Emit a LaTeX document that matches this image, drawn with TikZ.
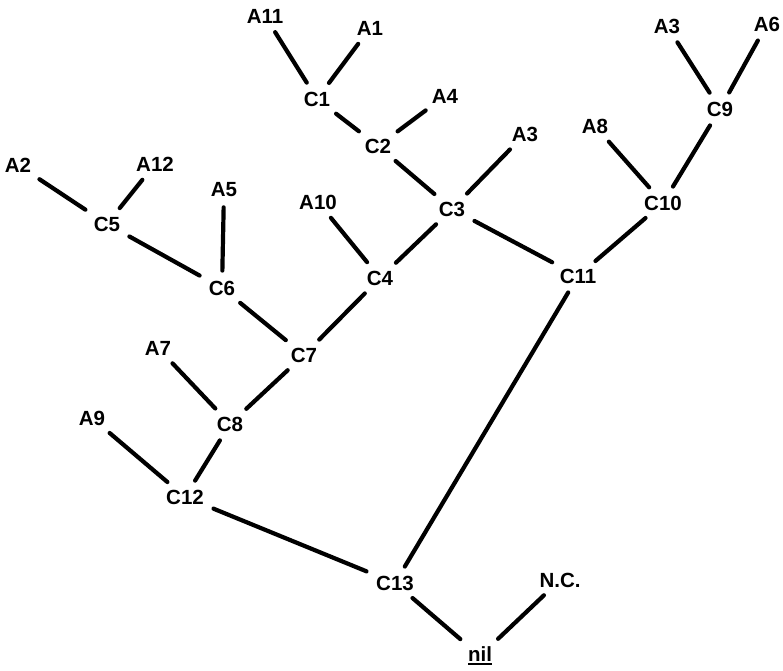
\documentclass[tikz,border=0pt]{standalone}
\usepackage{fontspec}
\setmainfont{Liberation Sans}
\newcommand\thickul[1]{\setbox0\hbox{#1}\rlap{\rule[-3.5pt]{\wd0}{1.8pt}}\box0}
\begin{document}
\begin{tikzpicture}[x=1pt,y=-1pt,
  lbl/.style={font=\fontsize{20.5}{24}\selectfont\bfseries, inner sep=3pt},
  edge/.style={line width=4.2pt, line cap=round, shorten <=7pt, shorten >=7pt}]
\useasboundingbox (0,0) rectangle (783,670);
\node[lbl] (A11) at (265,16) {A11};
\node[lbl] (A1) at (370,28) {A1};
\node[lbl] (C1) at (317,99) {C1};
\node[lbl] (C2) at (378,146) {C2};
\node[lbl] (A4) at (445,96) {A4};
\node[lbl] (A3a) at (525,134) {A3};
\node[lbl] (C3) at (452,209) {C3};
\node[lbl] (C11) at (578,276) {C11};
\node[lbl] (C10) at (663,203) {C10};
\node[lbl] (A8) at (595,126) {A8};
\node[lbl] (C9) at (720,109) {C9};
\node[lbl] (A3b) at (667,26) {A3};
\node[lbl] (A6) at (767,24) {A6};
\node[lbl] (A2) at (18,165) {A2};
\node[lbl] (A12) at (155,164) {A12};
\node[lbl] (C5) at (107,224) {C5};
\node[lbl] (A5) at (224,190) {A5};
\node[lbl] (A10) at (318,202) {A10};
\node[lbl] (C4) at (380,278) {C4};
\node[lbl] (C6) at (222,288) {C6};
\node[lbl] (C7) at (304,355) {C7};
\node[lbl] (A7) at (158,348) {A7};
\node[lbl] (C8) at (230,424) {C8};
\node[lbl] (A9) at (92,418) {A9};
\node[lbl] (C12) at (185,497) {C12};
\node[lbl] (C13) at (395,583) {C13};
\node[lbl] (NC) at (560,580) {N.C.};
\node[lbl] (nil) at (480,656) {\thickul{nil}};

\draw[edge] (A11) -- (C1);
\draw[edge] (A1) -- (C1);
\draw[edge] (C1) -- (C2);
\draw[edge] (C2) -- (A4);
\draw[edge] (C2) -- (C3);
\draw[edge] (A3a) -- (C3);
\draw[edge] (C3) -- (C4);
\draw[edge] (C3) -- (C11);
\draw[edge] (A10) -- (C4);
\draw[edge] (C4) -- (C7);
\draw[edge] (A2) -- (C5);
\draw[edge] (A12) -- (C5);
\draw[edge] (C5) -- (C6);
\draw[edge] (A5) -- (C6);
\draw[edge] (C6) -- (C7);
\draw[edge] (C7) -- (C8);
\draw[edge] (A7) -- (C8);
\draw[edge] (C8) -- (C12);
\draw[edge] (A9) -- (C12);
\draw[edge] (C12) -- (C13);
\draw[edge] (C11) -- (C13);
\draw[edge] (C11) -- (C10);
\draw[edge] (A8) -- (C10);
\draw[edge] (C10) -- (C9);
\draw[edge] (A3b) -- (C9);
\draw[edge] (A6) -- (C9);
\draw[edge] (C13) -- (nil);
\draw[edge] (NC) -- (nil);
\end{tikzpicture}
\end{document}
